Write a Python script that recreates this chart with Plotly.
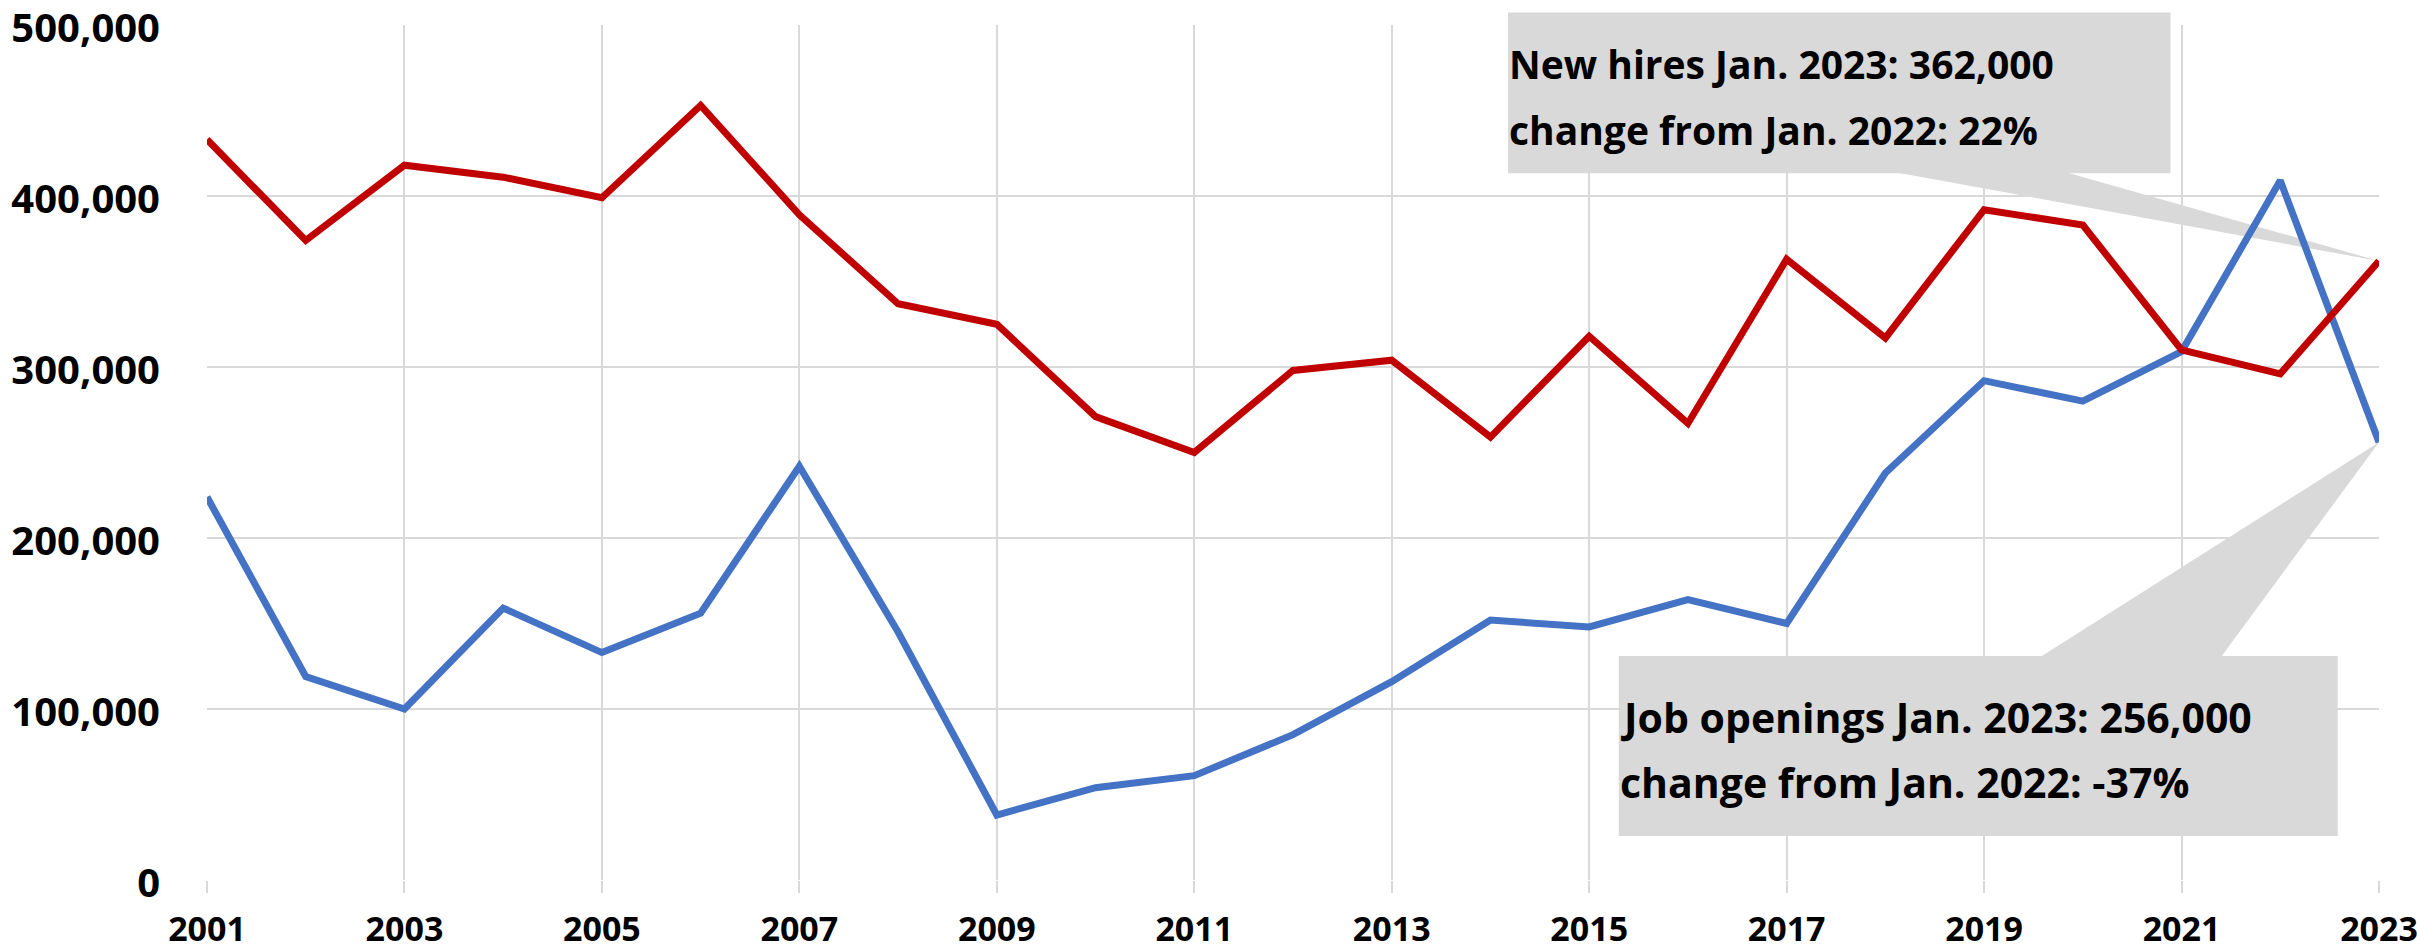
import plotly.graph_objects as go

years = list(range(2001, 2024))
new_hires = [433000, 374000, 418000, 411000, 399000, 453000, 389000, 337000, 325000, 271000,
             250000, 298000, 304000, 259000, 318000, 267000, 363000, 317000, 392000, 383000,
             310000, 296000, 362000]
job_openings = [224000, 119000, 100000, 159000, 133000, 156000, 242000, 145000, 38000, 54000,
                61000, 85000, 116000, 152000, 148000, 164000, 150000, 238000, 292000, 280000,
                309000, 409000, 256000]

hires_text = ["New hires Jan. 2023: 362,000", "change from Jan. 2022: 22%"]
openings_text = ["Job openings Jan. 2023: 256,000", "change from Jan. 2022: -37%"]

X0, X1 = 2001, 2023
Y0, Y1 = 0, 500000
RED = "#C00000"
BLUE = "#4472C4"
GRID = "#D9D9D9"
BOX = "#D9D9D9"
FONT = "Open Sans"

def px(x):
    return (x - X0) / (X1 - X0)

def py(y):
    return (y - Y0) / (Y1 - Y0)

fig = go.Figure()
fig.add_trace(go.Scatter(x=years, y=job_openings, mode="lines", name="Job openings",
                         line=dict(color=BLUE, width=7), cliponaxis=False))
fig.add_trace(go.Scatter(x=years, y=new_hires, mode="lines", name="New hires",
                         line=dict(color=RED, width=7), cliponaxis=False))

# Callout 1 (new hires)
b1 = dict(x0=0.599, x1=0.904, y0=0.8265, y1=1.0147)
tip1 = (px(years[-1]), py(new_hires[-1]))
fig.add_shape(type="rect", xref="paper", yref="paper", layer="below",
              fillcolor=BOX, line=dict(width=0), **b1)
fig.add_shape(type="path", xref="paper", yref="paper", layer="below",
              fillcolor=BOX, line=dict(width=0),
              path=f"M 0.776 {b1['y0']+0.002} L 0.855 {b1['y0']+0.002} L {tip1[0]} {tip1[1]} Z")

# Callout 2 (job openings)
b2 = dict(x0=0.650, x1=0.981, y0=0.0514, y1=0.262)
tip2 = (px(years[-1]), py(job_openings[-1]))
fig.add_shape(type="rect", xref="paper", yref="paper", layer="below",
              fillcolor=BOX, line=dict(width=0), **b2)
fig.add_shape(type="path", xref="paper", yref="paper", layer="below",
              fillcolor=BOX, line=dict(width=0),
              path=f"M 0.8435 {b2['y1']-0.002} L 0.927 {b2['y1']-0.002} L {tip2[0]} {tip2[1]} Z")

for txt, yy in zip(hires_text, [0.9545, 0.8775]):
    fig.add_annotation(xref="paper", yref="paper", x=b1["x0"], y=yy, text=txt,
                       xanchor="left", yanchor="middle", showarrow=False,
                       font=dict(family=FONT, size=39, color="black", weight="bold"),
                       borderpad=0)
for txt, yy in zip(openings_text, [0.191, 0.115]):
    fig.add_annotation(xref="paper", yref="paper", x=b2["x0"], y=yy, text=txt,
                       xanchor="left", yanchor="middle", showarrow=False,
                       font=dict(family=FONT, size=41, color="black", weight="bold"),
                       borderpad=0)

fig.update_layout(
    width=2417, height=952,
    margin=dict(l=207, r=38, t=25, b=72, autoexpand=False),
    paper_bgcolor="white", plot_bgcolor="white",
    showlegend=False,
    font=dict(family=FONT, color="black"),
)
fig.update_xaxes(range=[X0, X1], tick0=2001, dtick=2, showgrid=True, gridcolor=GRID, gridwidth=2,
                 ticks="outside", ticklen=12, tickwidth=2, tickcolor=GRID,
                 tickfont=dict(family=FONT, size=34, color="black", weight="bold"),
                 ticklabelstandoff=7, ticklabeloverflow="allow", automargin=False,
                 zeroline=False, showline=False)
fig.update_yaxes(range=[Y0, Y1], dtick=100000, tickformat=",d", showgrid=True, gridcolor=GRID,
                 gridwidth=2, ticks="", zeroline=False, showline=False,
                 tickfont=dict(family=FONT, size=40, color="black", weight="bold"),
                 ticklabelstandoff=46, ticklabelshift=3,
                 ticklabeloverflow="allow", automargin=False)

fig.write_html("out.html")
